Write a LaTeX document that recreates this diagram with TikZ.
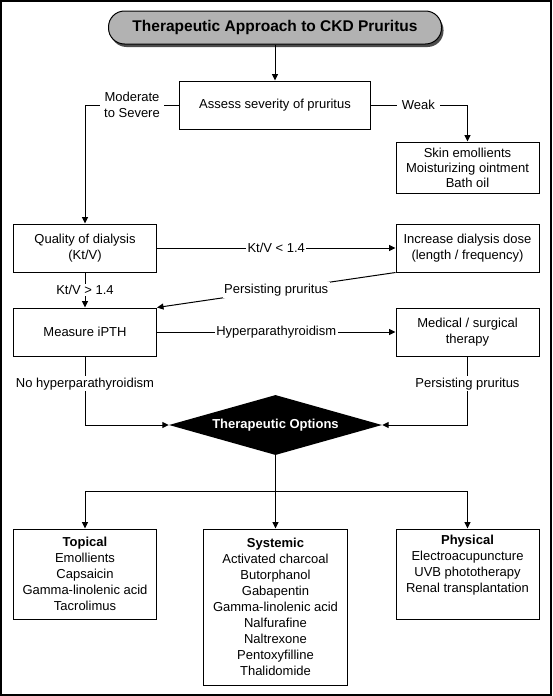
\documentclass[tikz,border=0pt]{standalone}
\usepackage{fontspec}
\setmainfont{Liberation Sans}
\usetikzlibrary{arrows.meta,shapes.geometric,shadows}
\begin{document}
\begin{tikzpicture}[x=1pt,y=-1pt,
  every node/.style={font=\fontsize{13}{16}\selectfont},
  box/.style={draw, line width=1pt, fill=white, align=center, minimum width=143pt, minimum height=48pt, inner sep=0pt},
  arr/.style={line width=1pt, -{Triangle[length=6.5pt,width=6pt]}},
  ln/.style={line width=1pt},
  lab/.style={fill=white, inner sep=1.5pt, align=center},
  titlebox/.style={draw, line width=1pt, fill=black!30, rounded corners=16pt, minimum width=333pt, minimum height=33pt, inner sep=0pt,
     font=\fontsize{15.5}{18}\selectfont\bfseries,
     drop shadow={shadow xshift=2pt, shadow yshift=-3pt, fill=black!70, opacity=1}},
  opts/.style={diamond, fill=black, text=white, aspect=3.55, minimum width=213pt, minimum height=60pt, inner sep=0pt,
     font=\fontsize{13}{16}\selectfont\bfseries}
]
\useasboundingbox (0,0) rectangle (552,696);
\draw[line width=1.5pt] (1,1) rectangle (551,695);

\node[titlebox] (title) at (275,27.5) {Therapeutic Approach to CKD Pruritus};
\node[box, minimum width=191pt] (assess) at (275,105) {Assess severity of pruritus};
\node[box, minimum height=51pt, font=\fontsize{13}{15}\selectfont] (skin) at (467.5,167.5) {Skin emollients\\Moisturizing ointment\\Bath oil};
\node[box] (quality) at (85,248) {Quality of dialysis\\(Kt/V)};
\node[box] (increase) at (467.5,248) {Increase dialysis dose\\(length / frequency)};
\node[box] (measure) at (85,332) {Measure iPTH};
\node[box] (medical) at (467.5,332) {Medical / surgical\\therapy};
\node[opts] (options) at (275.5,425) {Therapeutic Options};
\node[box, minimum height=90pt] (topical) at (85,574) {\textbf{Topical}\\Emollients\\Capsaicin\\Gamma-linolenic acid\\Tacrolimus};
\node[box, minimum width=144pt, minimum height=156pt] (systemic) at (275.5,607) {\textbf{Systemic}\\Activated charcoal\\Butorphanol\\Gabapentin\\Gamma-linolenic acid\\Nalfurafine\\Naltrexone\\Pentoxyfilline\\Thalidomide};
\node[box, minimum height=90pt] (physical) at (467.5,574) {\textbf{Physical}\\Electroacupuncture\\UVB phototherapy\\Renal transplantation\\\strut};
\coordinate (branch) at (275.5,491);

\draw[arr] (title.south) -- (assess.north);
\draw[arr] (assess.west) -| node[lab, pos=0.25, inner xsep=4pt] {Moderate\\to Severe} (quality.north);
\draw[arr] (assess.east) -| node[lab, pos=0.245, inner xsep=5pt] {Weak} (skin.north);
\draw[arr] (quality.east) -- node[lab] {Kt/V < 1.4} (increase.west);
\draw[arr] (quality.south) -- node[lab] {Kt/V > 1.4} (measure.north);
\draw[arr] (increase.south west) -- node[lab] {Persisting pruritus} (measure.north east);
\draw[arr] (measure.east) -- node[lab] {Hyperparathyroidism} (medical.west);
\draw[arr] (measure.south) |- node[lab, pos=0.2] {No hyperparathyroidism} (options.west);
\draw[arr] (medical.south) |- node[lab, pos=0.2] {Persisting pruritus} (options.east);
\draw[arr] (options.south) -- (systemic.north);
\draw[arr] (branch) -| (topical.north);
\draw[arr] (branch) -| (physical.north);
\end{tikzpicture}
\end{document}
